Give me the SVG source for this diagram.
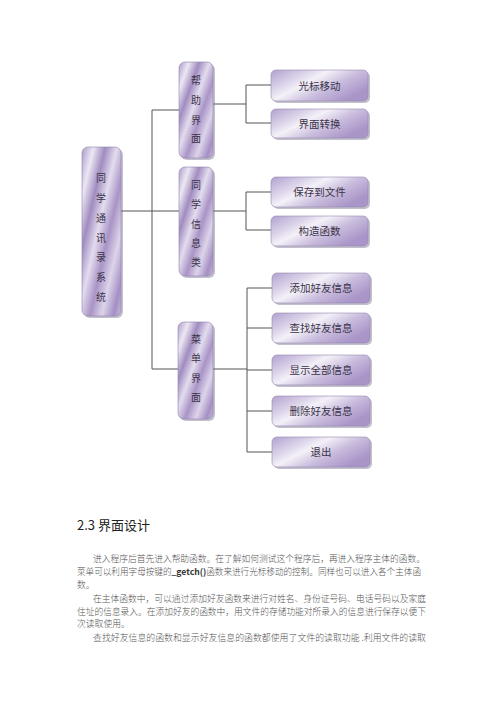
<svg xmlns="http://www.w3.org/2000/svg" width="500" height="707" viewBox="0 0 500 707">
<defs>
<linearGradient id="gv" x1="0" y1="0" x2="1" y2="0.35" spreadMethod="reflect">
<stop offset="0" stop-color="#a996c6"/>
<stop offset="0.2" stop-color="#e8e2f0"/>
<stop offset="0.4" stop-color="#9f8cbf"/>
<stop offset="0.6" stop-color="#ddd5ea"/>
<stop offset="0.8" stop-color="#a895c5"/>
<stop offset="1" stop-color="#cfc4e0"/>
</linearGradient>
<linearGradient id="gvr" x1="0" y1="0" x2="0" y2="1">
<stop offset="0" stop-color="#ffffff" stop-opacity="0"/>
<stop offset="0.5" stop-color="#ffffff" stop-opacity="0.15"/>
<stop offset="1" stop-color="#ffffff" stop-opacity="0"/>
</linearGradient>
<linearGradient id="gh" x1="0" y1="0" x2="1" y2="0.6">
<stop offset="0" stop-color="#b3a1cf"/>
<stop offset="0.3" stop-color="#dcd4ea"/>
<stop offset="0.45" stop-color="#f4f1f8"/>
<stop offset="0.7" stop-color="#c9bcdd"/>
<stop offset="1" stop-color="#a995c8"/>
</linearGradient>
<linearGradient id="gvert" x1="0" y1="0" x2="1" y2="1">
<stop offset="0" stop-color="#ae9bcb"/>
<stop offset="0.15" stop-color="#ece7f3"/>
<stop offset="0.3" stop-color="#a08cc0"/>
<stop offset="0.45" stop-color="#e3dcee"/>
<stop offset="0.6" stop-color="#a994c6"/>
<stop offset="0.75" stop-color="#ddd4ea"/>
<stop offset="0.9" stop-color="#a48fc3"/>
<stop offset="1" stop-color="#c8bbdc"/>
</linearGradient>
</defs>
<style>
.sh{fill:#7a7390;opacity:.45}
.vb{fill:url(#gvert);stroke:#8f80ab;stroke-width:.6}
.hb{fill:url(#gh);stroke:#9486ae;stroke-width:.6}
.vt{font-family:"Noto Sans CJK SC","Noto Sans CJK JP",sans-serif;font-size:10px;fill:#3a3448;text-anchor:middle}
.ht{font-family:"Noto Sans CJK SC","Noto Sans CJK JP",sans-serif;font-size:10.5px;fill:#3a3448;text-anchor:middle}
.ln{fill:none;stroke:#555;stroke-width:1}
.body{font-family:"Noto Sans CJK SC","Noto Sans CJK JP",sans-serif;font-size:8.8px;fill:#555;font-weight:300}
.hd{font-family:"Noto Sans CJK SC","Noto Sans CJK JP",sans-serif;font-size:13px;fill:#222}
</style>

<g id="connectors">
<path class="ln" d="M121 211 H179"/>
<path class="ln" d="M152 110 V369"/>
<path class="ln" d="M152 110 H179"/>
<path class="ln" d="M152 369 H178"/>
<path class="ln" d="M213 104 H246 M246 85 V123 M246 85 H271 M246 123 H271"/>
<path class="ln" d="M213 211 H246 M246 192 V230 M246 192 H271 M246 230 H271"/>
<path class="ln" d="M213 369 H247 M247 288 V452 M247 288 H272 M247 328 H272 M247 370 H272 M247 411 H272 M247 452 H272"/>
<path d="M119 224 L121 225 L121 232 L119 231 Z" fill="#333"/>
</g>

<g id="root">
<rect class="sh" x="84" y="149" width="39" height="169" rx="6"/>
<rect class="vb" x="82" y="147" width="39" height="169" rx="6"/>
<text class="vt" x="101" y="182">同</text>
<text class="vt" x="101" y="202">学</text>
<text class="vt" x="101" y="222">通</text>
<text class="vt" x="101" y="242">讯</text>
<text class="vt" x="101" y="261">录</text>
<text class="vt" x="101" y="281">系</text>
<text class="vt" x="101" y="301">统</text>
</g>

<g id="help">
<rect class="sh" x="181" y="64" width="34" height="96" rx="6"/>
<rect class="vb" x="179" y="62" width="34" height="96" rx="6"/>
<text class="vt" x="196" y="84">帮</text>
<text class="vt" x="196" y="104">助</text>
<text class="vt" x="196" y="124">界</text>
<text class="vt" x="196" y="142">面</text>
</g>

<g id="info">
<rect class="sh" x="181" y="169" width="34" height="109" rx="6"/>
<rect class="vb" x="179" y="167" width="34" height="109" rx="6"/>
<text class="vt" x="196" y="189">同</text>
<text class="vt" x="196" y="208">学</text>
<text class="vt" x="196" y="228">信</text>
<text class="vt" x="196" y="247">息</text>
<text class="vt" x="196" y="266">类</text>
</g>

<g id="menu">
<rect class="sh" x="180" y="324" width="35" height="97" rx="6"/>
<rect class="vb" x="178" y="322" width="35" height="97" rx="6"/>
<text class="vt" x="196" y="343">菜</text>
<text class="vt" x="196" y="362">单</text>
<text class="vt" x="196" y="382">界</text>
<text class="vt" x="196" y="401">面</text>
</g>

<g id="cursor">
<rect class="sh" x="273" y="72" width="97" height="31" rx="5"/>
<rect class="hb" x="271" y="70" width="97" height="31" rx="5"/>
<text class="ht" x="319.5" y="89.5">光标移动</text>
</g>
<g id="switch">
<rect class="sh" x="273" y="111" width="97" height="29" rx="5"/>
<rect class="hb" x="271" y="109" width="97" height="29" rx="5"/>
<text class="ht" x="319.5" y="127.5">界面转换</text>
</g>
<g id="save">
<rect class="sh" x="273" y="179" width="97" height="30" rx="5"/>
<rect class="hb" x="271" y="177" width="97" height="30" rx="5"/>
<text class="ht" x="319.5" y="196">保存到文件</text>
</g>
<g id="ctor">
<rect class="sh" x="273" y="218" width="97" height="30" rx="5"/>
<rect class="hb" x="271" y="216" width="97" height="30" rx="5"/>
<text class="ht" x="319.5" y="235">构造函数</text>
</g>
<g id="add">
<rect class="sh" x="274" y="275" width="98" height="30" rx="5"/>
<rect class="hb" x="272" y="273" width="98" height="30" rx="5"/>
<text class="ht" x="321" y="292">添加好友信息</text>
</g>
<g id="find">
<rect class="sh" x="274" y="315" width="98" height="30" rx="5"/>
<rect class="hb" x="272" y="313" width="98" height="30" rx="5"/>
<text class="ht" x="321" y="332">查找好友信息</text>
</g>
<g id="show">
<rect class="sh" x="274" y="357" width="98" height="30" rx="5"/>
<rect class="hb" x="272" y="355" width="98" height="30" rx="5"/>
<text class="ht" x="321" y="374">显示全部信息</text>
</g>
<g id="del">
<rect class="sh" x="274" y="398" width="98" height="30" rx="5"/>
<rect class="hb" x="272" y="396" width="98" height="30" rx="5"/>
<text class="ht" x="321" y="415">删除好友信息</text>
</g>
<g id="exit">
<rect class="sh" x="274" y="439" width="98" height="30" rx="5"/>
<rect class="hb" x="272" y="437" width="98" height="30" rx="5"/>
<text class="ht" x="321" y="456">退出</text>
</g>

<text class="hd" x="77" y="530">2.3 界面设计</text>
<text class="body" x="93" y="562" textLength="332" lengthAdjust="spacingAndGlyphs">进入程序后首先进入帮助函数。在了解如何测试这个程序后，再进入程序主体的函数。</text>
<text class="body" x="77" y="575" textLength="344" lengthAdjust="spacingAndGlyphs">菜单可以利用字母按键的<tspan font-weight="700" fill="#333">_getch()</tspan>函数来进行光标移动的控制。同样也可以进入各个主体函</text>
<text class="body" x="77" y="588">数。</text>
<text class="body" x="93" y="602" textLength="333" lengthAdjust="spacingAndGlyphs">在主体函数中，可以通过添加好友函数来进行对姓名、身份证号码、电话号码以及家庭</text>
<text class="body" x="77" y="615" textLength="349" lengthAdjust="spacingAndGlyphs">住址的信息录入。在添加好友的函数中，用文件的存储功能对所录入的信息进行保存以便下</text>
<text class="body" x="77" y="627">次读取使用。</text>
<text class="body" x="93" y="641" textLength="333" lengthAdjust="spacingAndGlyphs">查找好友信息的函数和显示好友信息的函数都使用了文件的读取功能 .利用文件的读取</text>
</svg>
